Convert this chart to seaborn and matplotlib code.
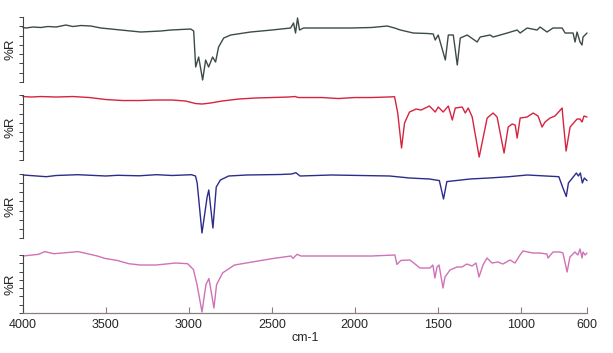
import numpy as np
import pandas as pd
import matplotlib
matplotlib.use("Agg")
import matplotlib.pyplot as plt
import seaborn as sns

# spectrum 1 (grey)
wn1 = [4000, 3982, 3940, 3892, 3850, 3800, 3741, 3700, 3650, 3591, 3530, 3470, 3410, 3350, 3290, 3230,
       3170, 3109, 3050, 2989, 2971, 2959, 2941, 2917, 2899, 2881, 2857, 2839, 2821, 2790, 2748, 2628,
       2500, 2387, 2369, 2357, 2345, 2333, 2309, 2150, 2026, 1900, 1804, 1760, 1725, 1647, 1560, 1527,
       1515, 1497, 1454, 1436, 1406, 1382, 1364, 1322, 1262, 1244, 1184, 1166, 1081, 1021, 1003, 961,
       901, 883, 841, 805, 750, 732, 684, 672, 660, 642, 630, 624, 600]
r1 = [54.5, 54, 55, 54.5, 55.5, 55, 57, 55.5, 56.5, 56, 54, 53, 52, 51, 50, 50.5,
      51, 52, 52.5, 53, 51, 15, 25, 2, 22, 15, 25, 20, 35, 44, 47, 50,
      52, 54, 59, 49, 64, 52, 54, 54, 54, 54.5, 56, 54, 52, 49, 48.5, 48,
      42, 47, 22, 47, 47, 17, 44, 47, 40, 45, 47, 45, 49, 52, 49, 54,
      52, 55, 50, 54, 54, 49, 49, 40, 50, 40, 37, 45, 49]

# spectrum 2 (red)
wn2 = [4000, 3950, 3892, 3800, 3700, 3600, 3500, 3400, 3300, 3200, 3100, 3020, 2960, 2920, 2870, 2800,
       2700, 2600, 2500, 2400, 2360, 2340, 2200, 2100, 2000, 1900, 1804, 1760, 1741, 1718, 1700, 1670,
       1630, 1600, 1550, 1515, 1497, 1467, 1436, 1412, 1394, 1352, 1334, 1316, 1292, 1250, 1202, 1166,
       1142, 1100, 1075, 1051, 1033, 1021, 1003, 961, 925, 895, 871, 853, 823, 793, 750, 744,
       726, 702, 660, 642, 630, 618, 600]
r2 = [63.5, 63, 63.5, 63, 63.5, 62.5, 60.5, 59.5, 59.5, 60, 60, 59, 56.5, 56, 57, 59,
      61, 62, 62.5, 63, 63.5, 62.5, 62.5, 61.5, 62.5, 62.5, 63, 63.3, 47, 12, 37, 48,
      51, 50, 54, 48, 53, 48, 54, 40, 52, 53, 47, 52, 43, 3, 42, 47,
      43, 7, 33, 36, 35, 22, 42, 43, 47, 44, 33, 38, 42, 44, 52, 40,
      9, 33, 41, 41, 38, 44, 43]

# spectrum 3 (navy)
wn3 = [4000, 3860, 3800, 3670, 3500, 3430, 3300, 3195, 3100, 2985, 2960, 2950, 2921, 2890, 2880, 2855,
       2835, 2810, 2760, 2650, 2450, 2380, 2355, 2330, 2140, 1790, 1670, 1550, 1490, 1465, 1445, 1305,
       1190, 1070, 960, 770, 745, 725, 712, 688, 664, 652, 640, 628, 616, 600]
r3 = [63, 61.3, 62.5, 63.3, 62, 62.7, 62.2, 63.3, 62.5, 63.3, 62, 55, 5, 41, 48, 10,
      51, 58, 62, 63, 63.5, 64, 65.3, 62, 63, 62, 60, 59, 57.4, 39, 56.4, 59,
      60, 61.3, 63, 61.3, 50, 41.5, 55, 60, 65, 62, 65, 55, 60, 57.4]

# spectrum 4 (pink)
wn4 = [4000, 3905, 3870, 3813, 3741, 3668, 3611, 3552, 3506, 3433, 3362, 3292, 3198, 3079, 3008, 2973,
       2951, 2921, 2897, 2879, 2849, 2833, 2796, 2725, 2608, 2489, 2384, 2372, 2348, 2324, 2137, 1899,
       1758, 1746, 1722, 1667, 1639, 1607, 1547, 1529, 1517, 1504, 1492, 1468, 1456, 1426, 1384, 1354,
       1324, 1293, 1269, 1251, 1227, 1203, 1173, 1137, 1107, 1064, 1034, 1004, 986, 926,
       884, 842, 835, 805, 763, 745, 720, 703, 673, 655, 642, 630, 624, 612, 600]
r4 = [57, 58.7, 61.4, 59.3, 60.3, 61.4, 59.3, 57, 54.6, 52.6, 49.3, 48, 48, 50, 49.3, 43.6,
      28.5, 1, 28.5, 34.5, 5, 28.5, 40.2, 48, 51.3, 54.6, 57, 54.6, 58.7, 57, 57, 57,
      58, 48.6, 52.6, 53, 49.3, 45, 45, 48, 35, 46, 48, 25, 36, 43, 46, 46,
      49, 47, 50, 36, 48, 55, 50, 51, 49, 53, 50, 58, 62, 60,
      60, 59, 55, 61, 61, 60, 41, 56, 61, 58, 64, 55, 61, 58, 60]

xticks = [4000, 3500, 3000, 2500, 2000, 1500, 1000, 600]

sns.set_style("ticks")
plt.rcParams['font.family'] = ['Liberation Sans', 'DejaVu Sans']

fig = plt.figure(figsize=(6.13, 3.53), dpi=100)

panels = [
    (wn1, r1, '#3d4b48', 0.7677, 0.1841, 65),
    (wn2, r2, '#d6233f', 0.5467, 0.1841, 65),
    (wn3, r3, '#2c2c8a', 0.3258, 0.1813, 64),
    (wn4, r4, '#cf72b6', 0.1133, 0.1643, 58),
]

for i, (wn, r, col, bot, h, top) in enumerate(panels):
    ax = fig.add_axes([0.0375, bot, 0.9201, h])
    df = pd.DataFrame({'cm-1': wn, '%R': r})
    sns.lineplot(data=df, x='cm-1', y='%R', ax=ax, color=col, linewidth=1.0,
                 sort=False, clip_on=False)
    ax.set_xlim(4000, 600)
    ax.set_ylim(0, top)
    ax.set_yticks(np.linspace(0, top, 8))
    ax.set_yticklabels([])
    ax.tick_params(axis='y', direction='out', length=3, width=0.7, color='#444444')
    ax.spines['top'].set_visible(False)
    ax.spines['right'].set_visible(False)
    ax.spines['left'].set_color('#444444')
    ax.spines['left'].set_linewidth(0.8)
    ax.set_ylabel('%R', fontsize=9.5)
    ax.yaxis.set_label_coords(-0.011, 0.5)
    if i < 3:
        ax.spines['bottom'].set_visible(False)
        ax.set_xticks([])
        ax.set_xlabel('')
    else:
        ax.spines['bottom'].set_color('#8a7f7f')
        ax.spines['bottom'].set_linewidth(0.9)
        ax.set_xticks(xticks)
        ax.set_xticklabels([str(t) for t in xticks], fontsize=9)
        ax.tick_params(axis='x', direction='in', length=4, width=0.8, color='#8a7f7f', pad=4)
        ax.set_xlabel('cm-1', fontsize=9, labelpad=1)

fig.savefig('out.png', dpi=100)
